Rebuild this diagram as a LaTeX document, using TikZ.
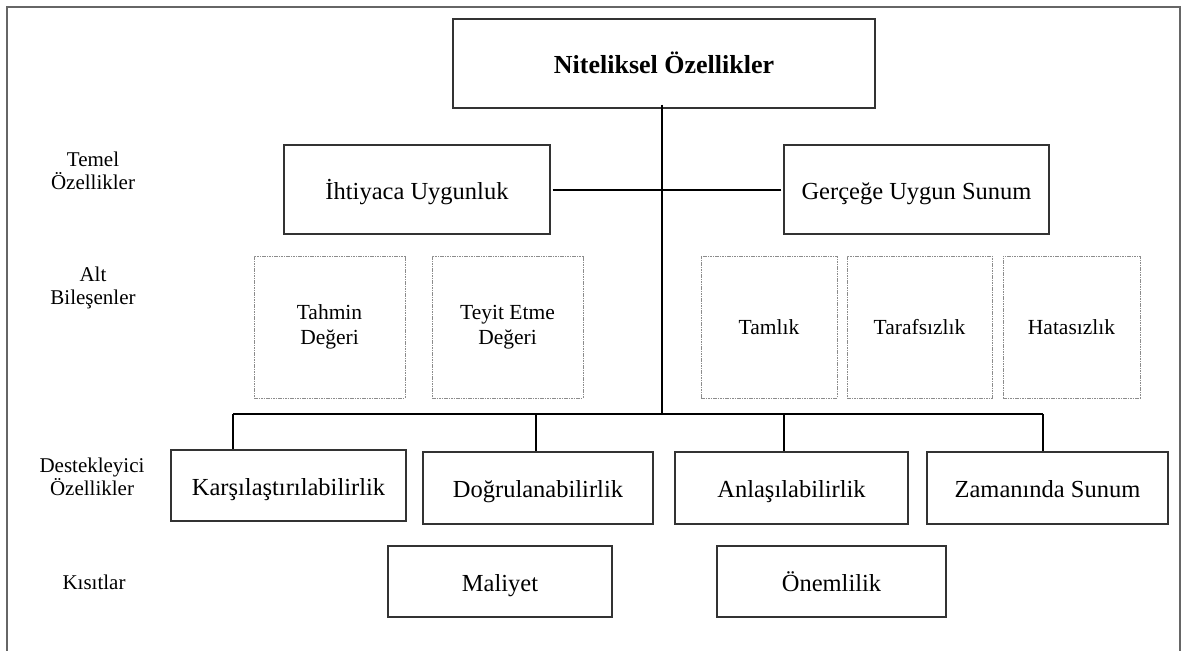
\documentclass[tikz,border=0pt]{standalone}
\usepackage{fontspec}
\setmainfont{Liberation Serif}
\begin{document}
\begin{tikzpicture}[x=1pt,y=-1pt,
  solidbox/.style={draw=black!80, line width=1.3pt, inner sep=0pt, align=center,
    text height=19pt, text depth=0pt,
    font=\fontsize{24.5}{28}\selectfont},
  titlebox/.style={solidbox, text height=21pt, text depth=0pt,
    font=\fontsize{26}{30}\selectfont\bfseries},
  subbox/.style={draw=black!45, line width=0.8pt, dash pattern=on 1.6pt off 0.8pt,
    inner sep=0pt, align=center, font=\fontsize{21.5}{25}\selectfont},
  rowlabel/.style={align=center, font=\fontsize{21}{23}\selectfont},
  link/.style={draw=black, line width=2pt}]
\useasboundingbox (0,0) rectangle (1182,650);
% outer frame, open at the bottom
\draw[black!60, line width=2pt] (7,660) -- (7,7) -- (1180,7) -- (1180,660);

% top level
\node[titlebox, minimum width=422pt, minimum height=89pt] (top) at (664,63.5) {Niteliksel Özellikler};

% row labels
\node[rowlabel] (l1) at (93,171) {Temel\\Özellikler};
\node[rowlabel] (l2) at (93,288) {Alt\\Bileşenler};
\node[rowlabel] (l3) at (92,477) {Destekleyici\\Özellikler};
\node[rowlabel] (l4) at (94,582) {Kısıtlar};

% fundamental characteristics
\node[solidbox, minimum width=266pt, minimum height=89pt] (ih) at (417,189.5) {İhtiyaca Uygunluk};
\node[solidbox, minimum width=265pt, minimum height=89pt] (ge) at (916.5,189.5) {Gerçeğe Uygun Sunum};

% sub-components
\node[subbox, minimum width=151pt, minimum height=142pt] (s1) at (329.5,327) {Tahmin\\Değeri};
\node[subbox, minimum width=151pt, minimum height=142pt] (s2) at (507.5,327) {Teyit Etme\\Değeri};
\node[subbox, minimum width=136pt, minimum height=142pt] (s3) at (769,327) {Tamlık};
\node[subbox, minimum width=145pt, minimum height=142pt] (s4) at (919.5,327) {Tarafsızlık};
\node[subbox, minimum width=137pt, minimum height=142pt] (s5) at (1071.5,327) {Hatasızlık};

% enhancing characteristics
\node[solidbox, minimum width=235pt, minimum height=71pt] (d1) at (288.5,485.5) {Karşılaştırılabilirlik};
\node[solidbox, minimum width=230pt, minimum height=72pt] (d2) at (538,488) {Doğrulanabilirlik};
\node[solidbox, minimum width=233pt, minimum height=72pt] (d3) at (791.5,488) {Anlaşılabilirlik};
\node[solidbox, minimum width=241pt, minimum height=72pt] (d4) at (1047.5,488) {Zamanında Sunum};

% constraints
\node[solidbox, minimum width=224pt, minimum height=71pt] (k1) at (500,581.5) {Maliyet};
\node[solidbox, minimum width=229pt, minimum height=71pt] (k2) at (831.5,581.5) {Önemlilik};

% connectors
\coordinate (tr) at (662,414);
\coordinate (b1) at (233,414);
\coordinate (b2) at (536,414);
\coordinate (b3) at (784,414);
\coordinate (b4) at (1043,414);
\draw[link] ([yshift=4pt]tr |- top.south) -- (tr);
\draw[link] ([xshift=2pt]ih.east) -- (tr |- ih.east);
\draw[link] ([xshift=-2pt]ge.west) -- (tr |- ge.west);
\draw[link] (b1) -- (b4);
\draw[link] (b1) -- (b1 |- d1.north);
\draw[link] (b2) -- (b2 |- d2.north);
\draw[link] (b3) -- (b3 |- d3.north);
\draw[link] (b4) -- (b4 |- d4.north);
\end{tikzpicture}
\end{document}
